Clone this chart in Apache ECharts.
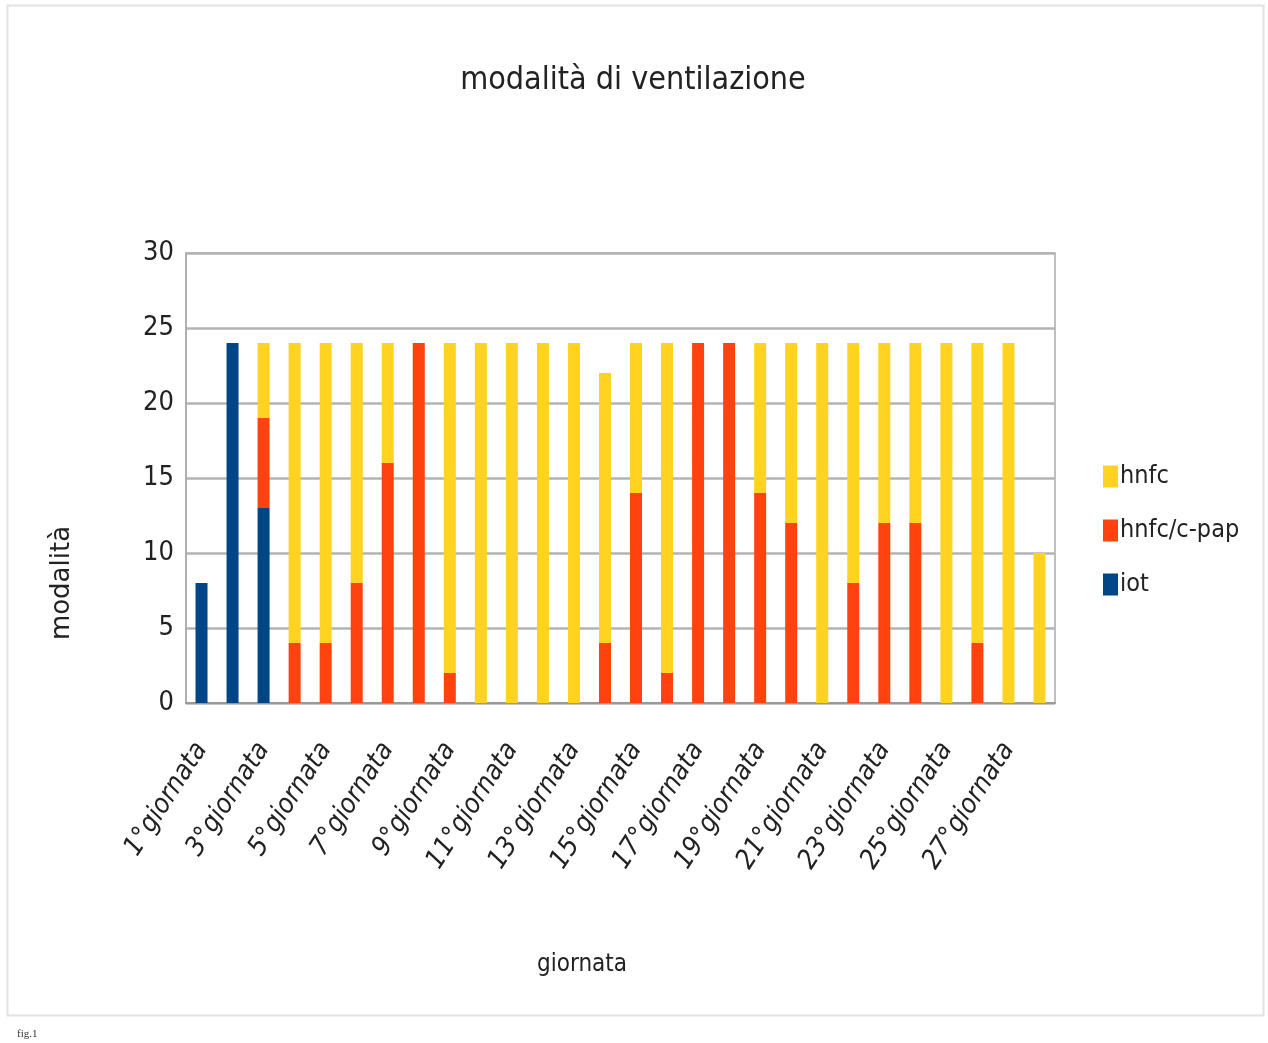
<!DOCTYPE html>
<html>
<head>
<meta charset="utf-8">
<title>modalità di ventilazione</title>
<script src="https://cdn.jsdelivr.net/npm/echarts@6/dist/echarts.min.js"></script>
<style>
	html, body { margin: 0; padding: 0; background: #fff; }
	#chart { width: 1268px; height: 1043px; }
</style>
</head>
<body>
<div id="chart"></div>
<script>
// giornate 1..28
var giornate = [];
for (var i = 1; i <= 28; i++) {
	giornate.push(i + '°giornata');
}
// valori
var iot      = [8, 24, 13, 0, 0, 0, 0, 0, 0, 0, 0, 0, 0, 0, 0, 0, 0, 0, 0, 0, 0, 0, 0, 0, 0, 0, 0, 0];
var hnfcCpap = [0, 0, 6, 4, 4, 8, 16, 24, 2, 0, 0, 0, 0, 4, 14, 2, 24, 24, 14, 12, 0, 8, 12, 12, 0, 4, 0, 0];
var hnfc     = [0, 0, 5, 20, 20, 16, 8, 0, 22, 24, 24, 24, 24, 18, 10, 22, 0, 0, 10, 12, 24, 16, 12, 12, 24, 20, 24, 10];
var yTicks   = [0, 5, 10, 15, 20, 25, 30];

var font = "'Liberation Sans Narrow', 'DejaVu Sans Condensed', sans-serif";
var myChart = echarts.init(document.getElementById('chart'));

var option = {
	backgroundColor: '#fff',
	animation: false,
	title: [
		{
			text: 'modalità di ventilazione',
			left: 628, top: 60, textAlign: 'center',
			textStyle: { fontFamily: font, fontSize: 32, fontWeight: 'normal', color: '#222' }
		},
		{
			text: 'giornata',
			left: 577, top: 948, textAlign: 'center',
			textStyle: { fontFamily: font, fontSize: 24, fontWeight: 'normal', color: '#222' }
		},
		{
			text: 'fig.1',
			left: 12, top: 1024,
			textStyle: { fontFamily: 'Liberation Serif, serif', fontSize: 11, fontWeight: 'normal', color: '#333' }
		}
	],
	graphic: [
		{
			type: 'rect',
			shape: { x: 7.5, y: 5.5, width: 1256, height: 1010 },
			style: { fill: 'none', stroke: '#e2e2e2', lineWidth: 2 },
			silent: true
		},
		{
			type: 'text',
			x: 62, y: 583,
			rotation: Math.PI / 2,
			style: {
				text: 'modalità',
				font: '26px "DejaVu Sans", sans-serif',
				fill: '#222',
				align: 'center',
				verticalAlign: 'middle'
			}
		}
	],
	legend: {
		orient: 'vertical',
		left: 1098, top: 459,
		itemWidth: 15, itemHeight: 22,
		itemGap: 29,
		icon: 'rect',
		data: ['hnfc', 'hnfc/c-pap', 'iot'],
		textStyle: { fontFamily: font, fontSize: 25, color: '#222', padding: [0, 0, 0, -3] }
	},
	grid: {
		left: 186, right: 213, top: 253, bottom: 340,
		show: true, borderColor: '#aaa', borderWidth: 1.5
	},
	xAxis: {
		type: 'category',
		data: giornate,
		axisTick: { show: false },
		axisLine: { lineStyle: { color: '#999', width: 2 } },
		axisLabel: {
			interval: 1,
			rotate: 57,
			margin: 42,
			fontFamily: font,
			fontStyle: 'italic',
			fontSize: 27,
			color: '#222'
		}
	},
	yAxis: {
		type: 'value',
		min: yTicks[0],
		max: yTicks[yTicks.length - 1],
		interval: 5,
		axisLine: { show: true, lineStyle: { color: '#aaa', width: 1.5 } },
		axisTick: { show: false },
		splitLine: { lineStyle: { color: '#b3b3b3', width: 2.5 } },
		axisLabel: {
			margin: 12,
			fontFamily: font,
			fontSize: 27,
			color: '#222'
		}
	},
	series: [
		{
			name: 'iot', type: 'bar', stack: 'tot', barWidth: 12,
			itemStyle: { color: '#004586' },
			data: iot
		},
		{
			name: 'hnfc/c-pap', type: 'bar', stack: 'tot', barWidth: 12,
			itemStyle: { color: '#ff420e' },
			data: hnfcCpap
		},
		{
			name: 'hnfc', type: 'bar', stack: 'tot', barWidth: 12,
			itemStyle: { color: '#ffd320' },
			data: hnfc
		}
	]
};

myChart.setOption(option);
</script>
</body>
</html>
